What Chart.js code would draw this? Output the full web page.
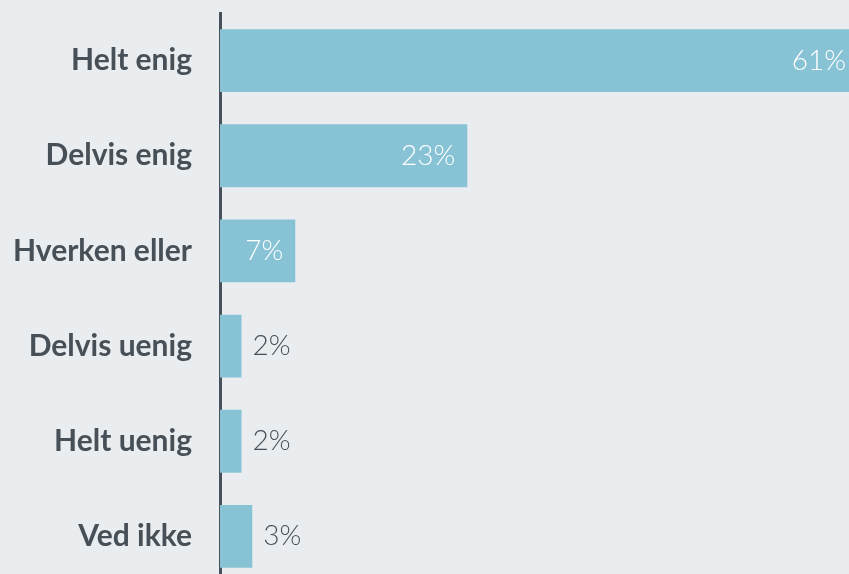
<!DOCTYPE html>
<html>
<head>
<meta charset="utf-8">
<script src="https://cdn.jsdelivr.net/npm/chart.js@4.4.1/dist/chart.umd.min.js"></script>
<style>
html,body{margin:0;padding:0;background:#e9edf0;overflow:hidden}
canvas{display:block}
</style>
</head>
<body>
<canvas id="barChart" width="849" height="584"></canvas>
<script>
let labels=["Helt enig","Delvis enig","Hverken eller","Delvis uenig","Helt uenig","Ved ikke"]
let values=[61,23,7,2,2,3]

let textColor="#474f57"

/* value labels, inside big bars, outside small ones */
let valueLabels={
id:"valueLabels",
afterDatasetsDraw(chart){
let ctx=chart.ctx
let area=chart.chartArea
let meta=chart.getDatasetMeta(0)
ctx.save()
ctx.font="300 28px Lato"
ctx.textBaseline="middle"
meta.data.forEach((bar,i)=>{
let v=values[i]
let txt=v+"%"
if(bar.x>area.right){
// bar runs off the edge
ctx.fillStyle="#ffffff"
ctx.textAlign="right"
ctx.fillText(txt,area.right-3,bar.y)
}else if(v>=5){
ctx.fillStyle="#ffffff"
ctx.textAlign="right"
ctx.fillText(txt,bar.x-12,bar.y)
}else{
ctx.fillStyle=textColor
ctx.textAlign="left"
ctx.fillText(txt,bar.x+11,bar.y)
}
})
ctx.restore()
}
}

new Chart(document.getElementById("barChart"),{
type:"bar",
data:{
labels:labels,
datasets:[{
data:values,
backgroundColor:"#87c3d5",
barPercentage:0.66,
categoryPercentage:1
}]
},
options:{
indexAxis:"y",
responsive:false,
animation:false,
layout:{padding:{top:13,right:0,bottom:0,left:0}},
plugins:{legend:{display:false},tooltip:{enabled:false}},
scales:{
x:{display:false,min:0,max:58.5},
y:{
z:1,
grid:{display:false},
border:{display:true,color:"#48515a",width:3},
ticks:{color:textColor,font:{family:"Lato",size:30,weight:"bold"},padding:20},
afterFit(scale){
scale.width=220
scale.paddingTop=0
scale.paddingBottom=0
}
}
}
},
plugins:[valueLabels]
})
</script>
</body>
</html>
